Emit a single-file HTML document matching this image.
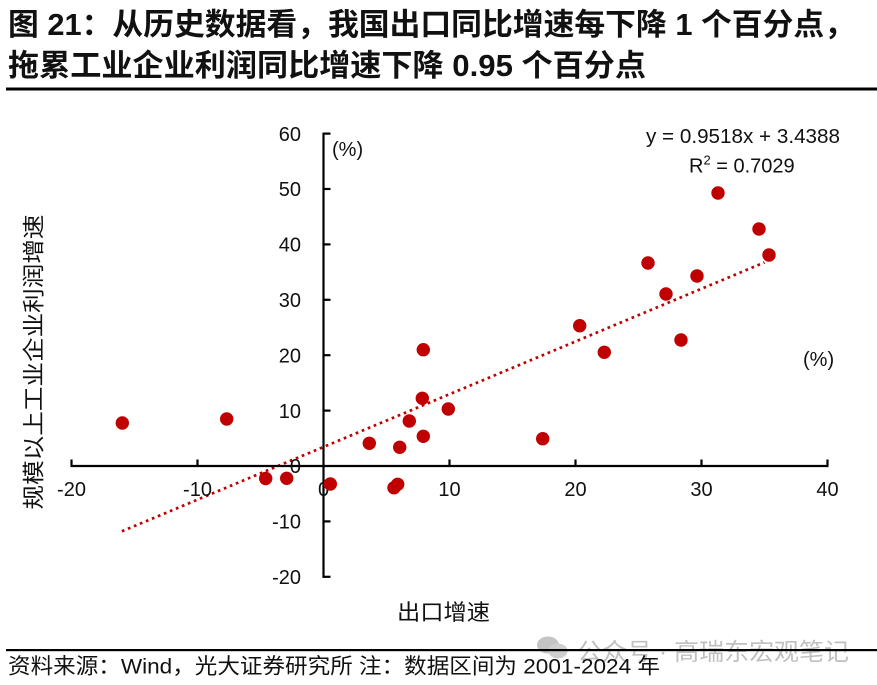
<!DOCTYPE html>
<html><head><meta charset="utf-8"><style>
html,body{margin:0;padding:0;background:#fff;}
svg{display:block;}
text{font-family:"Liberation Sans","Noto Sans CJK SC",sans-serif;fill:#111;}
.cjk{font-family:"Liberation Sans","Noto Sans CJK SC",sans-serif;}
</style></head><body>
<svg width="877" height="685" viewBox="0 0 877 685" xmlns="http://www.w3.org/2000/svg">
<rect width="877" height="685" fill="#fff"/>
<!-- Title -->
<text x="8" y="35" font-size="30.5" font-weight="700" fill="#000" textLength="847" lengthAdjust="spacingAndGlyphs">图 21：从历史数据看，我国出口同比增速每下降 1 个百分点，</text>
<text x="8" y="76" font-size="30.5" font-weight="700" fill="#000" textLength="638" lengthAdjust="spacingAndGlyphs">拖累工业企业利润同比增速下降 0.95 个百分点</text>
<rect x="6" y="87.5" width="871" height="3" fill="#000"/>

<!-- Trendline -->
<line x1="121.9" y1="531.3" x2="764.5" y2="262.4" stroke="#c00000" stroke-width="2.7" stroke-dasharray="2.7 3.8"/>

<!-- Axes -->
<g stroke="#000" stroke-width="2.2" fill="none">
<line x1="323.5" y1="132.6" x2="323.5" y2="577.9"/>
<line x1="70.5" y1="466" x2="828.5" y2="466"/>
<!-- y ticks -->
<line x1="323.5" y1="133.6" x2="330.5" y2="133.6"/>
<line x1="323.5" y1="189" x2="330.5" y2="189"/>
<line x1="323.5" y1="244.4" x2="330.5" y2="244.4"/>
<line x1="323.5" y1="299.8" x2="330.5" y2="299.8"/>
<line x1="323.5" y1="355.2" x2="330.5" y2="355.2"/>
<line x1="323.5" y1="410.6" x2="330.5" y2="410.6"/>
<line x1="323.5" y1="521.4" x2="330.5" y2="521.4"/>
<line x1="323.5" y1="576.8" x2="330.5" y2="576.8"/>
<!-- x ticks -->
<line x1="71.5" y1="466" x2="71.5" y2="459.5"/>
<line x1="197.5" y1="466" x2="197.5" y2="459.5"/>
<line x1="449.5" y1="466" x2="449.5" y2="459.5"/>
<line x1="575.5" y1="466" x2="575.5" y2="459.5"/>
<line x1="701.5" y1="466" x2="701.5" y2="459.5"/>
<line x1="827.5" y1="466" x2="827.5" y2="459.5"/>
</g>

<!-- y tick labels -->
<g font-size="20" text-anchor="end">
<text x="301" y="140.8">60</text>
<text x="301" y="196.2">50</text>
<text x="301" y="251.6">40</text>
<text x="301" y="307">30</text>
<text x="301" y="362.4">20</text>
<text x="301" y="417.8">10</text>
<text x="301" y="473.2">0</text>
<text x="301" y="528.6">-10</text>
<text x="301" y="584">-20</text>
</g>
<!-- x tick labels -->
<g font-size="20" text-anchor="middle">
<text x="71.5" y="496">-20</text>
<text x="197.5" y="496">-10</text>
<text x="323.5" y="496">0</text>
<text x="449.5" y="496">10</text>
<text x="575.5" y="496">20</text>
<text x="701.5" y="496">30</text>
<text x="827.5" y="496">40</text>
</g>

<!-- Points -->
<g fill="#c00000">
<circle cx="122.3" cy="423" r="6.7"/>
<circle cx="226.7" cy="419" r="6.7"/>
<circle cx="265.7" cy="478.5" r="6.7"/>
<circle cx="286.7" cy="478.3" r="6.7"/>
<circle cx="330.3" cy="484" r="6.7"/>
<circle cx="369.3" cy="443.3" r="6.7"/>
<circle cx="394" cy="487.7" r="6.7"/>
<circle cx="397.7" cy="484.3" r="6.7"/>
<circle cx="399.7" cy="447.3" r="6.7"/>
<circle cx="409.3" cy="421" r="6.7"/>
<circle cx="423.3" cy="436.3" r="6.7"/>
<circle cx="422.3" cy="398.3" r="6.7"/>
<circle cx="423.3" cy="349.7" r="6.7"/>
<circle cx="448.3" cy="409" r="6.7"/>
<circle cx="542.7" cy="438.7" r="6.7"/>
<circle cx="579.7" cy="325.7" r="6.7"/>
<circle cx="604.3" cy="352.3" r="6.7"/>
<circle cx="648" cy="263" r="6.7"/>
<circle cx="666" cy="294" r="6.7"/>
<circle cx="681" cy="340" r="6.7"/>
<circle cx="697" cy="276" r="6.7"/>
<circle cx="718" cy="193" r="6.7"/>
<circle cx="759" cy="229" r="6.7"/>
<circle cx="769" cy="255" r="6.7"/>
</g>

<!-- unit labels -->
<text x="332" y="156" font-size="20">(%)</text>
<text x="803" y="366" font-size="20">(%)</text>

<!-- equation -->
<text x="646" y="143" font-size="20" textLength="194" lengthAdjust="spacingAndGlyphs">y = 0.9518x + 3.4388</text>
<text x="689" y="172.5" font-size="20">R<tspan font-size="13" dy="-8">2</tspan><tspan dy="8"> = 0.7029</tspan></text>

<!-- axis titles -->
<text x="397" y="620" font-size="22" textLength="93" lengthAdjust="spacingAndGlyphs">出口增速</text>
<text transform="translate(41.5,362) rotate(-90)" x="0" y="0" font-size="22" text-anchor="middle" textLength="295" lengthAdjust="spacingAndGlyphs">规模以上工业企业利润增速</text>

<!-- watermark -->
<g fill="#c4c4c4">
<ellipse cx="548" cy="645" rx="11" ry="8.5"/>
<ellipse cx="558" cy="651" rx="9.5" ry="7.5" fill="#cfcfcf"/>
</g>
<text x="577" y="660" font-size="24" fill="#c0c0c0" style="fill:#c0c0c0" textLength="272" lengthAdjust="spacingAndGlyphs">公众号 · 高瑞东宏观笔记</text>

<!-- footer -->
<rect x="6" y="649" width="871" height="2.2" fill="#000"/>
<text x="8" y="673.5" font-size="21.5" fill="#000" textLength="652" lengthAdjust="spacingAndGlyphs">资料来源：Wind，光大证券研究所 注：数据区间为 2001-2024 年</text>
</svg>
</body></html>
